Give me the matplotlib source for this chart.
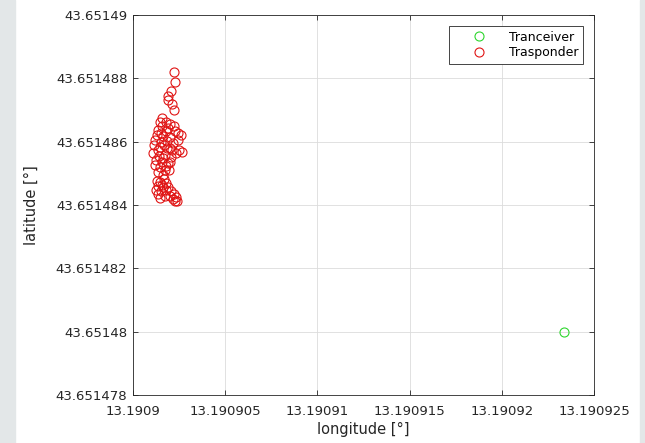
import numpy as np
import matplotlib.pyplot as plt
from matplotlib.patches import Rectangle
from matplotlib.ticker import FuncFormatter

# transceiver position (fixed station)
tranceiver_lon = [13.19092337]
tranceiver_lat = [43.65148000]

# transponder fixes
trasponder_lon = [
    13.19090222, 13.19090228, 13.19090206, 13.19090190, 13.19090190, 13.19090211,
    13.19090222, 13.19090179, 13.19090201, 13.19090157, 13.19090222, 13.19090136,
    13.19090179, 13.19090244, 13.19090130, 13.19090163, 13.19090201, 13.19090260,
    13.19090119, 13.19090152, 13.19090184, 13.19090217, 13.19090146, 13.19090184,
    13.19090249, 13.19090266, 13.19090233, 13.19090108, 13.19090141, 13.19090174,
    13.19090206, 13.19090125, 13.19090157, 13.19090190, 13.19090146, 13.19090174,
    13.19090136, 13.19090163, 13.19090201, 13.19090168, 13.19090146, 13.19090179,
    13.19090136, 13.19090163, 13.19090125, 13.19090152, 13.19090179, 13.19090136,
    13.19090201, 13.19090222, 13.19090217, 13.19090233, 13.19090228, 13.19090174,
    13.19090146, 13.19090190, 13.19090228, 13.19090114, 13.19090168, 13.19090212,
    13.19090136, 13.19090163, 13.19090201, 13.19090119, 13.19090179, 13.19090157,
    13.19090244, 13.19090152, 13.19090195, 13.19090157, 13.19090190, 13.19090146,
    13.19090206, 13.19090130, 13.19090239,
]
trasponder_lat = [
    43.65148820, 43.65148788, 43.65148760, 43.65148745, 43.65148732, 43.65148719,
    43.65148700, 43.65148662, 43.65148656, 43.65148649, 43.65148649, 43.65148637,
    43.65148634, 43.65148627, 43.65148621, 43.65148618, 43.65148615, 43.65148621,
    43.65148605, 43.65148599, 43.65148602, 43.65148596, 43.65148583, 43.65148580,
    43.65148574, 43.65148567, 43.65148564, 43.65148564, 43.65148555, 43.65148558,
    43.65148552, 43.65148542, 43.65148536, 43.65148533, 43.65148520, 43.65148510,
    43.65148504, 43.65148495, 43.65148580, 43.65148482, 43.65148473, 43.65148469,
    43.65148460, 43.65148457, 43.65148447, 43.65148444, 43.65148447, 43.65148435,
    43.65148428, 43.65148435, 43.65148419, 43.65148425, 43.65148413, 43.65148428,
    43.65148662, 43.65148643, 43.65148634, 43.65148589, 43.65148589, 43.65148574,
    43.65148574, 43.65148548, 43.65148536, 43.65148526, 43.65148523, 43.65148675,
    43.65148605, 43.65148627, 43.65148510, 43.65148463, 43.65148457, 43.65148422,
    43.65148444, 43.65148476, 43.65148413,
]

lon_ticks = [13.1909, 13.190905, 13.19091, 13.190915, 13.19092, 13.190925]
lat_ticks = [43.651478, 43.65148, 43.651482, 43.651484, 43.651486, 43.651488, 43.65149]

fig = plt.figure(figsize=(6.45, 4.43), dpi=100, facecolor="white")
# grey page margins on both sides
fig.patches.append(Rectangle((0, 0), 15 / 645, 1, transform=fig.transFigure,
                             color="#e3e7e8", zorder=0))
fig.patches.append(Rectangle((640 / 645, 0), 5 / 645, 1, transform=fig.transFigure,
                             color="#e3e7e8", zorder=0))

ax = fig.add_axes([133 / 645, 48 / 443, 461 / 645, 380 / 443])

ax.plot(tranceiver_lon, tranceiver_lat, "o", linestyle="none", markersize=6.5,
        markerfacecolor="none", markeredgecolor="#2ed62e", markeredgewidth=0.8,
        label="Tranceiver")
ax.plot(trasponder_lon, trasponder_lat, "o", linestyle="none", markersize=6.5,
        markerfacecolor="none", markeredgecolor="#e01414", markeredgewidth=0.8,
        label="Trasponder")

ax.set_xlim(lon_ticks[0], lon_ticks[-1])
ax.set_ylim(lat_ticks[0], lat_ticks[-1])
ax.set_xticks(lon_ticks)
ax.set_yticks(lat_ticks)
fmt = FuncFormatter(lambda v, pos: "{:.9g}".format(round(v, 7)))
ax.xaxis.set_major_formatter(fmt)
ax.yaxis.set_major_formatter(fmt)

ax.grid(True, color="#dcdcdc", linewidth=0.6)
ax.set_axisbelow(True)
ax.tick_params(direction="in", length=3.5, width=0.6, colors="#262626",
               labelsize=9.5, top=True, right=True)
ax.tick_params(axis="x", pad=7)
ax.tick_params(axis="y", pad=4)
for s in ax.spines.values():
    s.set_color("#262626")
    s.set_linewidth(0.6)

ax.set_xlabel("longitude [°]", fontsize=10.5, color="#262626", labelpad=3)
ax.set_ylabel("latitude [°]", fontsize=10.5, color="#262626", labelpad=12)

leg = ax.legend(loc="upper right", fontsize=9, fancybox=False, framealpha=1,
                edgecolor="#262626", borderaxespad=0.85, handletextpad=0.4,
                borderpad=0.4, labelspacing=0.2, handlelength=4.0)
leg.get_frame().set_linewidth(0.6)

fig.savefig("out.png", dpi=100, facecolor=fig.get_facecolor())
